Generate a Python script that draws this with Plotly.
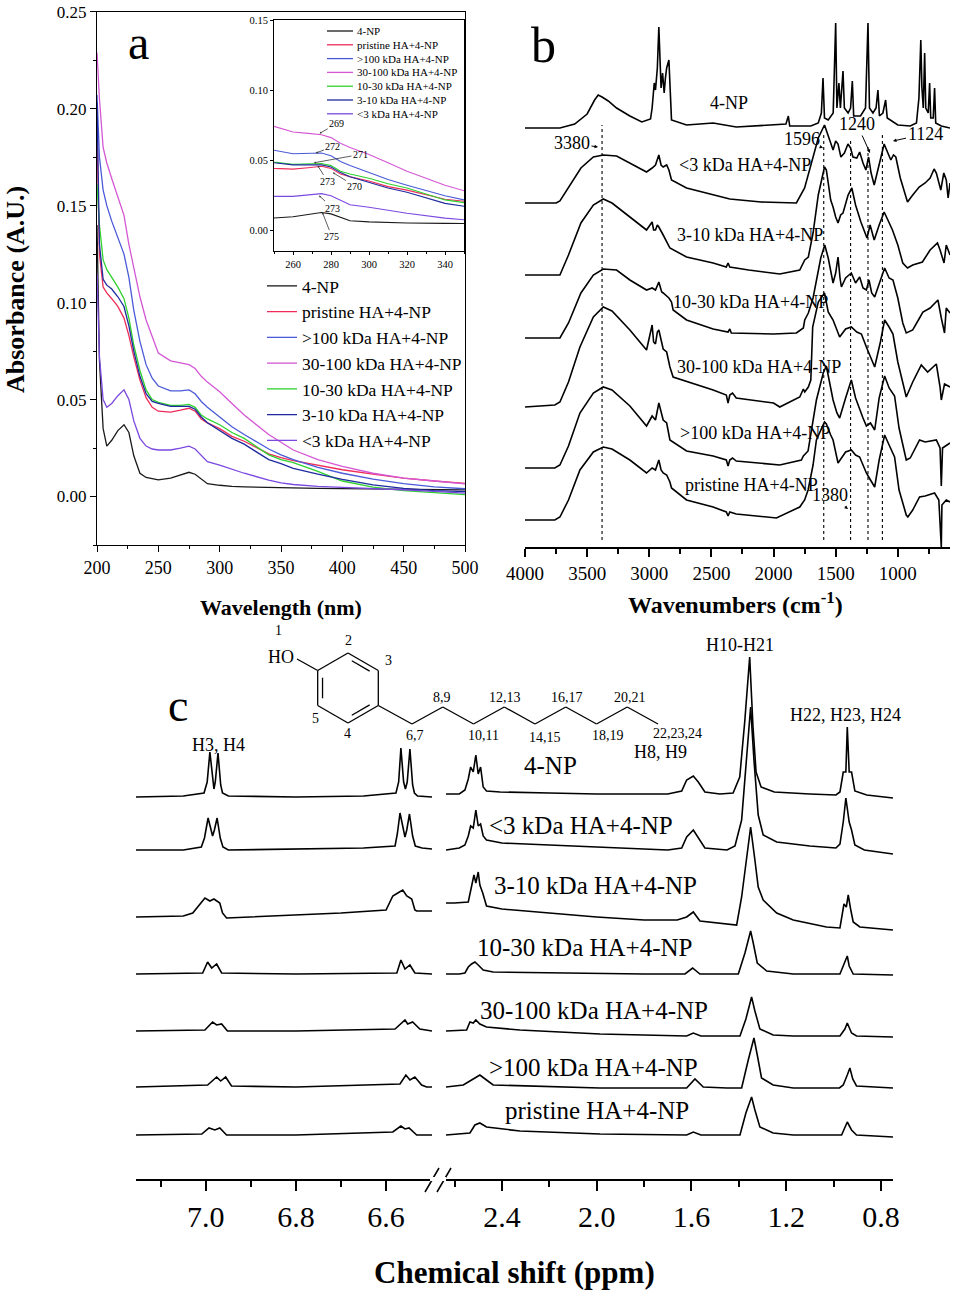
import math
import plotly.graph_objects as go

W, H = 956, 1296
FONT = "Liberation Serif"


def px(x):
    return x / W


def py(y):
    return 1 - y / H


# --- Panel a: UV-vis absorbance ---
uv_wl = [200, 202, 205, 208, 212, 217, 222, 226, 230, 235, 240, 245, 250, 260, 268, 275,
         280, 285, 290, 300, 310, 320, 340, 350, 360, 380, 400, 425, 450, 475, 500]
uv_4np = [0.140, 0.070, 0.035, 0.026, 0.029, 0.034, 0.037, 0.033, 0.021, 0.012, 0.0098, 0.009,
          0.0086, 0.0095, 0.011, 0.0125, 0.0115, 0.009, 0.0066, 0.0058, 0.0052, 0.005, 0.0047,
          0.0045, 0.0043, 0.0042, 0.0041, 0.004, 0.0038, 0.0036, 0.0034]
uv_pristine = [0.187, 0.125, 0.108, 0.105, 0.102, 0.098, 0.092, 0.083, 0.072, 0.060, 0.051, 0.046,
               0.044, 0.0435, 0.0445, 0.0455, 0.044, 0.040, 0.038, 0.035, 0.031, 0.0285, 0.022,
               0.020, 0.0185, 0.016, 0.0138, 0.0115, 0.0095, 0.008, 0.0068]
uv_100 = [0.207, 0.175, 0.158, 0.150, 0.142, 0.134, 0.125, 0.113, 0.096, 0.080, 0.068, 0.061,
          0.057, 0.0545, 0.0545, 0.055, 0.053, 0.049, 0.046, 0.041, 0.036, 0.032, 0.0245,
          0.0215, 0.019, 0.015, 0.012, 0.009, 0.0066, 0.005, 0.004]
uv_30_100 = [0.229, 0.205, 0.180, 0.172, 0.164, 0.154, 0.145, 0.130, 0.118, 0.103, 0.091, 0.082,
             0.074, 0.070, 0.069, 0.068, 0.066, 0.062, 0.059, 0.054, 0.048, 0.042, 0.032,
             0.028, 0.024, 0.019, 0.0155, 0.012, 0.0095, 0.008, 0.0065]
uv_10_30 = [0.161, 0.140, 0.122, 0.117, 0.113, 0.108, 0.102, 0.092, 0.078, 0.065, 0.055, 0.050,
            0.0485, 0.047, 0.047, 0.0475, 0.046, 0.042, 0.040, 0.037, 0.033, 0.030, 0.0215,
            0.019, 0.0175, 0.013, 0.008, 0.0048, 0.003, 0.002, 0.001]
uv_3_10 = [0.203, 0.130, 0.112, 0.109, 0.107, 0.103, 0.098, 0.088, 0.075, 0.062, 0.053, 0.049,
           0.048, 0.0465, 0.0465, 0.0465, 0.045, 0.041, 0.038, 0.034, 0.030, 0.027, 0.019,
           0.017, 0.0145, 0.0115, 0.0088, 0.006, 0.0042, 0.003, 0.0025]
uv_3 = [0.115, 0.072, 0.050, 0.046, 0.048, 0.052, 0.055, 0.050, 0.039, 0.030, 0.026, 0.0245,
        0.024, 0.024, 0.025, 0.026, 0.0245, 0.021, 0.018, 0.0162, 0.014, 0.012, 0.0085,
        0.007, 0.0062, 0.0052, 0.0047, 0.0042, 0.0035, 0.0027, 0.0018]

uv_names = ["4-NP", "pristine HA+4-NP", ">100 kDa HA+4-NP", "30-100 kDa HA+4-NP",
            "10-30 kDa HA+4-NP", "3-10 kDa HA+4-NP", "<3 kDa HA+4-NP"]
uv_series = [uv_4np, uv_pristine, uv_100, uv_30_100, uv_10_30, uv_3_10, uv_3]
uv_colors = ["#1a1a1a", "#ee2c5a", "#4a5ad8", "#d457d4", "#2ed12e", "#1f2a9e", "#7b48e0"]

inset_labels = ["269", "272", "271", "273", "270", "273", "275"]
inset_label_pos = [(283, 0.076), (281, 0.0595), (295.5, 0.054), (278.4, 0.0343),
                   (292.6, 0.0314), (281, 0.0157), (280.5, -0.005)]
inset_label_tip = [(274, 0.069), (272, 0.055), (271, 0.048), (273, 0.046),
                   (281, 0.041), (273.7, 0.0245), (275.5, 0.0125)]

# --- Panel b: FTIR, (wavenumber, height above the spectrum's own baseline) ---
ir_4np = [(4000, 0), (3719, 0), (3600, 4), (3500, 14), (3440, 28), (3411, 33), (3380, 31),
          (3330, 27), (3263, 20), (3156, 12), (3060, 6), (3022, 8), (2990, 9), (2977, 20),
          (2960, 45), (2950, 38), (2935, 60), (2923, 101), (2915, 70), (2905, 40), (2893, 55),
          (2880, 35), (2870, 50), (2860, 60), (2842, 68), (2830, 30), (2821, 8), (2700, 3),
          (2486, 5), (2300, 1), (2000, 3), (1900, 4), (1881, 12), (1870, 2), (1700, 2),
          (1640, 5), (1615, 15), (1602, 50), (1590, 10), (1560, 8), (1520, 15), (1500, 105),
          (1490, 20), (1474, 45), (1462, 20), (1441, 57), (1430, 20), (1400, 15), (1380, 20),
          (1366, 47), (1355, 12), (1300, 12), (1260, 20), (1240, 105), (1228, 20), (1200, 15),
          (1175, 20), (1160, 38), (1148, 12), (1120, 15), (1098, 28), (1085, 10), (1000, 3),
          (900, 2), (850, 5), (830, 30), (815, 88), (806, 40), (795, 20), (784, 75), (775, 20),
          (755, 15), (744, 45), (735, 10), (715, 10), (704, 40), (695, 5), (650, 2), (580, 0)]
ir_3 = [(4000, 0), (3750, 0), (3719, 2), (3650, 15), (3550, 35), (3450, 46), (3370, 48),
        (3263, 47), (3156, 40), (3022, 31), (2977, 35), (2950, 38), (2923, 48), (2905, 38),
        (2888, 36), (2860, 38), (2842, 33), (2821, 23), (2700, 15), (2486, 8), (2352, 4),
        (2100, 1), (1816, 0), (1750, 15), (1682, 46), (1640, 65), (1590, 78), (1575, 72),
        (1540, 60), (1521, 53), (1500, 62), (1481, 59), (1458, 46), (1430, 50), (1401, 59),
        (1380, 55), (1361, 46), (1330, 45), (1307, 51), (1280, 40), (1257, 33), (1235, 46),
        (1215, 30), (1190, 18), (1150, 40), (1110, 59), (1080, 50), (1056, 43), (1035, 48),
        (1016, 46), (980, 25), (932, 5), (922, 1), (880, 8), (828, 16), (780, 20), (740, 25),
        (708, 34), (690, 30), (654, 13), (630, 30), (610, 23), (595, 5), (580, 20)]
ir_3_10 = [(4000, 0), (3719, 0), (3650, 20), (3550, 52), (3450, 70), (3370, 76), (3300, 72),
           (3156, 58), (3022, 45), (2977, 53), (2965, 45), (2950, 45), (2935, 50), (2923, 48),
           (2900, 42), (2888, 40), (2834, 27), (2700, 18), (2486, 12), (2380, 8), (2366, 12),
           (2352, 8), (2200, 5), (1950, 1), (1789, 5), (1749, 15), (1720, 18), (1682, 42),
           (1640, 80), (1590, 108), (1575, 105), (1540, 75), (1521, 68), (1500, 58), (1481, 52),
           (1460, 60), (1441, 62), (1400, 80), (1370, 87), (1340, 70), (1297, 53), (1270, 45),
           (1248, 37), (1223, 50), (1190, 35), (1150, 50), (1110, 63), (1080, 55), (1043, 45),
           (1000, 30), (960, 12), (922, 7), (880, 10), (802, 13), (740, 25), (681, 32),
           (660, 25), (628, 12), (610, 30), (580, 20)]
ir_10_30 = [(4000, 0), (3719, 0), (3650, 15), (3550, 45), (3450, 63), (3370, 69), (3263, 68),
            (3156, 58), (3022, 48), (2977, 50), (2950, 48), (2923, 56), (2900, 46), (2888, 45),
            (2842, 40), (2821, 36), (2808, 28), (2700, 18), (2486, 9), (2366, 6), (2352, 9),
            (2340, 5), (2000, 4), (1816, 5), (1760, 10), (1749, 18), (1720, 25), (1682, 40),
            (1620, 80), (1588, 93), (1560, 80), (1521, 55), (1500, 65), (1481, 81), (1465, 60),
            (1454, 51), (1420, 60), (1374, 65), (1340, 55), (1307, 61), (1280, 50), (1253, 48),
            (1232, 58), (1210, 45), (1186, 41), (1150, 55), (1106, 70), (1070, 60), (1039, 58),
            (1000, 40), (960, 15), (932, 5), (880, 8), (825, 20), (798, 26), (740, 30),
            (677, 38), (650, 20), (624, 5), (610, 30), (580, 25)]
ir_30_100 = [(4000, 0), (3760, 2), (3719, 5), (3650, 25), (3558, 60), (3450, 90), (3370, 100),
             (3300, 96), (3156, 77), (3022, 57), (2977, 82), (2965, 65), (2950, 63), (2935, 75),
             (2923, 77), (2900, 62), (2888, 58), (2860, 55), (2834, 40), (2808, 30), (2600, 22),
             (2486, 17), (2380, 12), (2366, 4), (2352, 12), (2330, 14), (2300, 9), (2000, 4),
             (1950, 0), (1789, 10), (1760, 18), (1749, 15), (1720, 20), (1700, 27), (1685, 80),
             (1640, 105), (1590, 114), (1560, 95), (1521, 87), (1468, 70), (1420, 78),
             (1374, 80), (1330, 75), (1293, 73), (1253, 60), (1186, 40), (1140, 65), (1106, 87),
             (1070, 80), (1039, 73), (1000, 45), (932, 10), (880, 25), (811, 42), (760, 35),
             (690, 43), (660, 20), (650, 7), (624, 23), (580, 20)]
ir_100 = [(4000, 0), (3760, 0), (3719, 3), (3650, 22), (3558, 55), (3450, 75), (3370, 81),
          (3300, 78), (3156, 62), (3022, 42), (2977, 52), (2950, 48), (2923, 65), (2905, 55),
          (2888, 48), (2860, 45), (2834, 28), (2700, 17), (2486, 12), (2380, 8), (2366, 2),
          (2352, 8), (2330, 10), (2300, 7), (1950, 3), (1776, 8), (1760, 12), (1722, 17),
          (1690, 40), (1655, 68), (1600, 95), (1575, 102), (1540, 80), (1521, 68), (1490, 55),
          (1468, 50), (1420, 70), (1374, 88), (1340, 70), (1307, 58), (1280, 50), (1253, 42),
          (1220, 45), (1186, 38), (1150, 70), (1106, 92), (1070, 80), (1026, 72), (990, 40),
          (932, 8), (900, 10), (825, 28), (780, 26), (690, 28), (660, 20), (650, -18),
          (640, 20), (580, 25)]
ir_pristine = [(4000, 0), (3760, 0), (3719, 3), (3650, 20), (3558, 50), (3450, 68), (3370, 73),
               (3300, 71), (3156, 60), (3022, 47), (2977, 52), (2950, 50), (2923, 60), (2905, 50),
               (2888, 47), (2860, 45), (2834, 38), (2821, 32), (2700, 20), (2486, 13), (2380, 8),
               (2366, 4), (2352, 8), (2300, 6), (1977, 2), (1789, 13), (1750, 20), (1722, 30),
               (1682, 55), (1655, 80), (1590, 98), (1575, 96), (1540, 85), (1521, 80), (1481, 57),
               (1450, 62), (1420, 68), (1374, 70), (1340, 65), (1307, 63), (1280, 55), (1253, 47),
               (1220, 40), (1186, 33), (1150, 60), (1106, 85), (1070, 75), (1026, 63), (990, 30),
               (932, 5), (919, 3), (880, 10), (825, 23), (780, 24), (704, 27), (670, 20),
               (650, -27), (645, 15), (610, 20), (580, 18)]

ir_series = [ir_4np, ir_3, ir_3_10, ir_10_30, ir_30_100, ir_100, ir_pristine]
ir_offsets = [419, 344, 272, 209, 140, 79, 27]
ir_labels = ["4-NP", "<3 kDa HA+4-NP", "3-10 kDa HA+4-NP", "10-30 kDa HA+4-NP",
             "30-100 kDa HA+4-NP", ">100 kDa HA+4-NP", "pristine HA+4-NP"]
ir_label_px = [(708, 103), (677, 165), (675, 235), (671, 302), (675, 367), (678, 433), (683, 485)]
ir_marks = [3380, 1596, 1380, 1240, 1124]
ir_mark_tops = [422, 414, 407, 400, 415]

# --- Panel c: 1H NMR, (ppm, height above baseline); left and right of the axis break ---
nmr_L_4np = [(7.155, 0), (7.05, 1), (7.004, 4), (6.997, 15), (6.991, 45), (6.985, 15), (6.982, 8),
             (6.979, 15), (6.973, 44), (6.967, 12), (6.963, 4), (6.95, 1), (6.8, 0), (6.65, 1),
             (6.578, 4), (6.572, 15), (6.567, 49), (6.561, 15), (6.557, 8), (6.553, 15),
             (6.547, 48), (6.541, 12), (6.537, 4), (6.53, 1), (6.498, 0)]
nmr_L_3 = [(7.155, 0), (7.05, 0), (7.01, 3), (7.003, 12), (6.995, 32), (6.988, 20), (6.985, 14),
           (6.981, 20), (6.975, 32), (6.968, 12), (6.962, 3), (6.95, 0), (6.8, 1), (6.65, 2),
           (6.58, 4), (6.575, 16), (6.569, 37), (6.562, 20), (6.558, 13), (6.554, 20),
           (6.548, 36), (6.541, 14), (6.535, 4), (6.52, 2), (6.498, 1)]
nmr_L_3_10 = [(7.155, 0), (7.05, 1), (7.029, 4), (7.009, 16), (7.002, 19), (6.991, 16),
              (6.982, 18), (6.969, 14), (6.963, 4), (6.954, -1), (6.85, 1), (6.7, 4), (6.6, 7),
              (6.585, 21), (6.574, 24), (6.563, 27), (6.554, 21), (6.543, 18), (6.536, 7),
              (6.532, 6), (6.498, 6)]
nmr_L_10_30 = [(7.155, 0), (7.007, 1), (6.996, 12), (6.987, 6), (6.976, 10), (6.965, 1), (6.8, 0),
               (6.576, 1), (6.567, 14), (6.558, 5), (6.547, 9), (6.536, 1), (6.498, 0)]
nmr_L_30_100 = [(7.155, 0), (7.002, 1), (6.985, 9), (6.976, 6), (6.965, 7), (6.952, 0), (6.8, 0),
                (6.58, 2), (6.558, 11), (6.552, 7), (6.541, 9), (6.525, 2), (6.498, 0)]
nmr_L_100 = [(7.155, 0), (6.996, 2), (6.976, 10), (6.967, 6), (6.956, 10), (6.943, 1), (6.8, 0),
             (6.569, 3), (6.556, 12), (6.547, 7), (6.536, 10), (6.521, 2), (6.51, 0), (6.498, 0)]
nmr_L_pristine = [(7.155, 0), (7.009, 1), (6.993, 7), (6.980, 5), (6.969, 7), (6.954, 0), (6.8, 0),
                  (6.585, 3), (6.567, 9), (6.558, 6), (6.549, 7), (6.532, 0), (6.498, 0)]

nmr_R_4np = [(2.636, 3), (2.58, 3), (2.556, 7), (2.542, 18), (2.532, 30), (2.521, 25), (2.510, 42),
             (2.500, 23), (2.490, 30), (2.479, 10), (2.465, 6), (2.408, 5), (2.2, 4), (2.0, 3),
             (1.8, 3), (1.70, 3), (1.641, 6), (1.620, 17), (1.592, 21), (1.571, 15), (1.543, 5),
             (1.48, 3), (1.424, 4), (1.396, 20), (1.375, 75), (1.354, 140), (1.340, 70),
             (1.327, 25), (1.306, 10), (1.25, 5), (1.1, 3), (0.99, 2), (0.973, 5), (0.959, 25),
             (0.948, 25), (0.942, 70), (0.934, 25), (0.924, 25), (0.910, 6), (0.86, 2), (0.749, -1)]
nmr_R_3 = [(2.636, 0), (2.58, 2), (2.556, 5), (2.542, 14), (2.532, 24), (2.521, 22), (2.510, 40),
           (2.500, 24), (2.490, 26), (2.479, 14), (2.465, 10), (2.40, 7), (2.2, 5), (2.0, 3),
           (1.8, 1), (1.70, 0), (1.641, 2), (1.620, 13), (1.592, 20), (1.571, 12), (1.543, 2),
           (1.45, 0), (1.416, 4), (1.388, 30), (1.367, 95), (1.350, 143), (1.336, 90), (1.318, 35),
           (1.297, 15), (1.24, 8), (1.10, 4), (0.99, 2), (0.973, 6), (0.959, 28), (0.948, 52),
           (0.934, 28), (0.924, 20), (0.910, 5), (0.87, 0), (0.749, -4)]
nmr_R_3_10 = [(2.636, 14), (2.60, 14), (2.542, 15), (2.528, 30), (2.518, 42), (2.510, 34),
              (2.500, 45), (2.493, 32), (2.481, 24), (2.465, 11), (2.40, 8), (2.2, 4), (2.0, 0),
              (1.8, -3), (1.66, -3), (1.62, 0), (1.592, 5), (1.564, -4), (1.45, -7), (1.409, -8),
              (1.388, 20), (1.367, 57), (1.350, 90), (1.332, 57), (1.318, 30), (1.297, 17),
              (1.24, 4), (1.17, -3), (1.03, -10), (0.973, -11), (0.956, 13), (0.946, 10),
              (0.938, 22), (0.928, 8), (0.917, -5), (0.889, -10), (0.749, -13)]
nmr_R_10_30 = [(2.636, 0), (2.58, 0), (2.556, 1), (2.542, 7), (2.528, 10), (2.514, 12), (2.500, 9),
               (2.479, 4), (2.437, 2), (2.2, 1), (1.8, 0), (1.627, 0), (1.595, 6), (1.564, 0),
               (1.45, 0), (1.402, 0), (1.374, 21), (1.350, 43), (1.339, 31), (1.322, 11),
               (1.282, 3), (1.17, 0), (0.973, 0), (0.952, 11), (0.942, 18), (0.934, 8),
               (0.917, 0), (0.749, -1)]
nmr_R_30_100 = [(2.636, 0), (2.549, 1), (2.535, 9), (2.521, 8), (2.510, 11), (2.493, 7),
                (2.465, 4), (2.324, 1), (1.986, -3), (1.7, -5), (1.62, -5), (1.592, -2),
                (1.56, -5), (1.45, -5), (1.395, -5), (1.370, 12), (1.346, 34), (1.332, 20),
                (1.311, 2), (1.255, -4), (1.17, -5), (0.973, -5), (0.952, 2), (0.942, 8),
                (0.924, -2), (0.903, -5), (0.749, -6)]
nmr_R_100 = [(2.636, 0), (2.563, 2), (2.528, 7), (2.493, 12), (2.465, 7), (2.437, 2), (1.986, -1),
             (1.65, -1), (1.62, -1), (1.585, 8), (1.55, 0), (1.45, -1), (1.388, -1), (1.360, 27),
             (1.336, 49), (1.322, 32), (1.304, 9), (1.255, 2), (1.17, -1), (0.975, -1),
             (0.959, 2), (0.942, 12), (0.931, 19), (0.919, 8), (0.903, 1), (0.749, -1)]
nmr_R_pristine = [(2.636, 0), (2.535, 2), (2.514, 10), (2.493, 12), (2.465, 8), (2.324, 4),
                  (1.986, 1), (1.65, 0), (1.62, 0), (1.592, 3), (1.56, 0), (1.45, 0), (1.395, 0),
                  (1.370, 22), (1.346, 38), (1.332, 25), (1.311, 8), (1.255, 2), (1.17, 0),
                  (0.966, 0), (0.942, 13), (0.924, 5), (0.903, 0), (0.749, -2)]

nmr_left = [nmr_L_4np, nmr_L_3, nmr_L_3_10, nmr_L_10_30, nmr_L_30_100, nmr_L_100, nmr_L_pristine]
nmr_right = [nmr_R_4np, nmr_R_3, nmr_R_3_10, nmr_R_10_30, nmr_R_30_100, nmr_R_100, nmr_R_pristine]
nmr_offsets = [382, 329, 262, 205, 148, 92, 44]
nmr_labels = ["4-NP", "<3 kDa HA+4-NP", "3-10 kDa HA+4-NP", "10-30 kDa HA+4-NP",
              "30-100 kDa HA+4-NP", ">100 kDa HA+4-NP", "pristine HA+4-NP"]
nmr_label_px = [(522, 765), (487, 825), (492, 885), (475, 947), (478, 1010), (487, 1067), (503, 1110)]

fig = go.Figure()

# panel a main curves + inset copies
for name, vals, col in zip(uv_names, uv_series, uv_colors):
    fig.add_trace(go.Scatter(x=uv_wl, y=vals, name=name, mode="lines",
                             line=dict(color=col, width=1.3), xaxis="x", yaxis="y"))
for name, vals, col in zip(uv_names, uv_series, uv_colors):
    fig.add_trace(go.Scatter(x=uv_wl, y=vals, name=name, mode="lines", showlegend=False,
                             line=dict(color=col, width=1.1), xaxis="x2", yaxis="y2"))

# panel b stacked spectra
for spec, off in zip(ir_series, ir_offsets):
    fig.add_trace(go.Scatter(x=[p[0] for p in spec], y=[p[1] + off for p in spec], mode="lines",
                             showlegend=False, line=dict(color="black", width=1.6),
                             xaxis="x3", yaxis="y3"))
for wn, top in zip(ir_marks, ir_mark_tops):
    fig.add_trace(go.Scatter(x=[wn, wn], y=[7, top], mode="lines", showlegend=False,
                             line=dict(color="black", width=1.1, dash="3px,3px"),
                             xaxis="x3", yaxis="y3"))

# panel c stacked spectra (two segments sharing one y axis)
for segL, segR, off in zip(nmr_left, nmr_right, nmr_offsets):
    fig.add_trace(go.Scatter(x=[p[0] for p in segL], y=[p[1] + off for p in segL], mode="lines",
                             showlegend=False, line=dict(color="black", width=1.6),
                             xaxis="x4", yaxis="y4"))
    fig.add_trace(go.Scatter(x=[p[0] for p in segR], y=[p[1] + off for p in segR], mode="lines",
                             showlegend=False, line=dict(color="black", width=1.6),
                             xaxis="x5", yaxis="y4"))

ann = []
shp = []


def text(x, y, s, size, xanchor="center", yanchor="middle", **kw):
    ann.append(dict(x=px(x), y=py(y), xref="paper", yref="paper", text=s, showarrow=False,
                    font=dict(family=FONT, size=size, color="black"),
                    xanchor=xanchor, yanchor=yanchor, **kw))


def arrow_label(tip, txt_pos, s, size):
    ann.append(dict(x=px(tip[0]), y=py(tip[1]), xref="paper", yref="paper", text=s,
                    showarrow=True, arrowhead=2, arrowsize=0.7, arrowwidth=1, arrowcolor="black",
                    ax=txt_pos[0] - tip[0], ay=txt_pos[1] - tip[1],
                    font=dict(family=FONT, size=size, color="black")))


# panel a texts
text(138, 43, "a", 48)
text(15, 290, "<b>Absorbance (A.U.)</b>", 26, textangle=-90)
text(281, 607, "<b>Wavelength (nm)</b>", 22)
for lab, pos, tip in zip(inset_labels, inset_label_pos, inset_label_tip):
    ann.append(dict(x=tip[0], y=tip[1], xref="x2", yref="y2", ax=pos[0], ay=pos[1],
                    axref="x2", ayref="y2", text=lab, showarrow=True, arrowhead=2,
                    arrowsize=0.5, arrowwidth=0.8, arrowcolor="#333", standoff=0,
                    font=dict(family=FONT, size=10, color="black")))
# inset legend
for i, (name, col) in enumerate(zip(uv_names, uv_colors)):
    yy = 31 + 13.8 * i
    shp.append(dict(type="line", xref="paper", yref="paper", x0=px(327), x1=px(353),
                    y0=py(yy), y1=py(yy), line=dict(color=col, width=1.3)))
    text(355, yy, name, 11, xanchor="left")

# panel b texts
text(543, 45, "b", 50)
text(735, 603, "<b>Wavenumbers (cm<sup>-1</sup>)</b>", 24)
for lab, pos in zip(ir_labels, ir_label_px):
    text(pos[0], pos[1], lab, 18, xanchor="left")
arrow_label((598, 147), (572, 143), "3380", 18)
arrow_label((823, 148), (802, 139), "1596", 18)
arrow_label((870, 153), (857, 124), "1240", 18)
arrow_label((893, 141), (925, 134), "1124", 18)
arrow_label((848, 509), (830, 495), "1380", 18)

# panel c texts
text(178, 705, "c", 46)
text(514, 1272, "<b>Chemical shift (ppm)</b>", 31)
for lab, pos in zip(nmr_labels, nmr_label_px):
    text(pos[0], pos[1], lab, 25, xanchor="left")
text(218, 745, "H3, H4", 18)
text(660, 752, "H8, H9", 18)
text(740, 645, "H10-H21", 18)
text(845, 715, "H22, H23, H24", 18)

# axis break marks
for x0 in (425, 437):
    shp.append(dict(type="line", xref="paper", yref="paper", x0=px(x0), y0=py(1192),
                    x1=px(x0 + 14), y1=py(1168), line=dict(color="black", width=1.5)))
shp.append(dict(type="rect", xref="paper", yref="paper", x0=px(430), x1=px(446),
                y0=py(1181), y1=py(1177), fillcolor="white", line=dict(width=0), layer="above"))

# 4-nonylphenol structure sketch
cx, cy, R = 348, 688, 35
verts = [(cx + R * math.cos(math.radians(a)), cy - R * math.sin(math.radians(a)))
         for a in (90, 30, -30, -90, -150, 150)]


def seg(p, q, w=1.3):
    shp.append(dict(type="line", xref="paper", yref="paper", x0=px(p[0]), y0=py(p[1]),
                    x1=px(q[0]), y1=py(q[1]), line=dict(color="black", width=w)))


for i in range(6):
    seg(verts[i], verts[(i + 1) % 6])
for i in (0, 2, 4):
    p, q = verts[i], verts[(i + 1) % 6]
    ip = (p[0] + (cx - p[0]) * 0.16, p[1] + (cy - p[1]) * 0.16)
    iq = (q[0] + (cx - q[0]) * 0.16, q[1] + (cy - q[1]) * 0.16)
    a = (ip[0] + (iq[0] - ip[0]) * 0.15, ip[1] + (iq[1] - ip[1]) * 0.15)
    b = (ip[0] + (iq[0] - ip[0]) * 0.85, ip[1] + (iq[1] - ip[1]) * 0.85)
    seg(a, b)
seg(verts[5], (297, 659))
chain = [verts[2]] + [(412 + 30.75 * i, 724 if i % 2 == 0 else 707) for i in range(9)]
for p, q in zip(chain[:-1], chain[1:]):
    seg(p, q)
text(281, 657, "HO", 18)
text(278, 630, "1", 14)
text(348, 640, "2", 14)
text(388, 660, "3", 14)
text(347, 733, "4", 14)
text(315, 718, "5", 14)
for lab, (x, y) in zip(["6,7", "10,11", "14,15", "18,19", "22,23,24"],
                       [(415, 735), (483, 735), (545, 737), (608, 735), (677, 733)]):
    text(x, y, lab, 14)
for lab, (x, y) in zip(["8,9", "12,13", "16,17", "20,21"],
                       [(442, 697), (505, 697), (567, 697), (630, 697)]):
    text(x, y, lab, 14)

tickfont = dict(family=FONT, color="black")
common = dict(showgrid=False, zeroline=False, showline=True, linecolor="black",
              tickcolor="black", ticks="outside", automargin=False)

fig.update_layout(
    width=W, height=H, autosize=False,
    margin=dict(l=0, r=0, t=0, b=0, pad=0, autoexpand=False),
    paper_bgcolor="white", plot_bgcolor="white",
    font=dict(family=FONT, color="black"),
    showlegend=True,
    legend=dict(x=px(262), y=py(268), xanchor="left", yanchor="top", bgcolor="rgba(0,0,0,0)",
                font=dict(family=FONT, size=17.5, color="black"), tracegroupgap=0),
    xaxis=dict(domain=[px(97), px(465)], range=[200, 500], anchor="y", mirror=True,
               linewidth=1.2, ticklen=6, tickwidth=1.2, tick0=200, dtick=50,
               minor=dict(dtick=25, tick0=200, ticks="outside", ticklen=3, tickcolor="black"),
               tickfont=dict(size=18, **tickfont), **common),
    yaxis=dict(domain=[py(545), py(11.7)], range=[-0.025, 0.25], anchor="x", mirror=True,
               linewidth=1.2, ticklen=6, tickwidth=1.2, tick0=0, dtick=0.05, tickformat=".2f",
               minor=dict(dtick=0.025, tick0=0, ticks="outside", ticklen=3, tickcolor="black"),
               tickfont=dict(size=17, **tickfont), **common),
    xaxis2=dict(domain=[px(274), px(464)], range=[250, 350], anchor="y2", mirror=True,
                linewidth=1, ticklen=3, tick0=260, dtick=20,
                minor=dict(dtick=10, tick0=260, ticks="outside", ticklen=2, tickcolor="black"),
                tickfont=dict(size=10.5, **tickfont), **common),
    yaxis2=dict(domain=[py(251), py(20)], range=[-0.015, 0.15], anchor="x2", mirror=True,
                linewidth=1, ticklen=3, tick0=0, dtick=0.05, tickformat=".2f",
                tickfont=dict(size=10.5, **tickfont), **common),
    xaxis3=dict(domain=[px(525), px(950)], range=[4000, 580], anchor="y3", linewidth=1.5,
                ticklen=8, tickwidth=1.5, tickvals=[4000, 3500, 3000, 2500, 2000, 1500, 1000],
                minor=dict(tickvals=[3750, 3250, 2750, 2250, 1750, 1250, 750], ticks="outside",
                           ticklen=5, tickcolor="black"),
                tickfont=dict(size=19, **tickfont), **common),
    yaxis3=dict(domain=[py(547), py(20)], range=[0, 527], anchor="x3", visible=False,
                automargin=False),
    xaxis4=dict(domain=[px(136), px(432)], range=[7.155, 6.498], anchor="y4", linewidth=1.5,
                ticklen=10, tickwidth=1.5, tickvals=[7.0, 6.8, 6.6], ticktext=["7.0", "6.8", "6.6"],
                minor=dict(tickvals=[7.1, 6.9, 6.7], ticks="outside", ticklen=6,
                           tickcolor="black", tickwidth=1.5),
                tickfont=dict(size=30, **tickfont), **common),
    xaxis5=dict(domain=[px(446), px(893)], range=[2.636, 0.749], anchor="y4", linewidth=1.5,
                ticklen=10, tickwidth=1.5, tickvals=[2.4, 2.0, 1.6, 1.2, 0.8],
                ticktext=["2.4", "2.0", "1.6", "1.2", "0.8"],
                minor=dict(tickvals=[2.6, 2.2, 1.8, 1.4, 1.0], ticks="outside", ticklen=6,
                           tickcolor="black", tickwidth=1.5),
                tickfont=dict(size=30, **tickfont), **common),
    yaxis4=dict(domain=[py(1179), py(640)], range=[0, 539], anchor="x4", visible=False,
                automargin=False),
    annotations=ann,
    shapes=shp,
)

# the page body has a default 8px margin; drop it so the figure fills the window exactly
fig.write_html("out.html", config={"displayModeBar": False},
               post_script="document.body.style.margin = '0px';")
